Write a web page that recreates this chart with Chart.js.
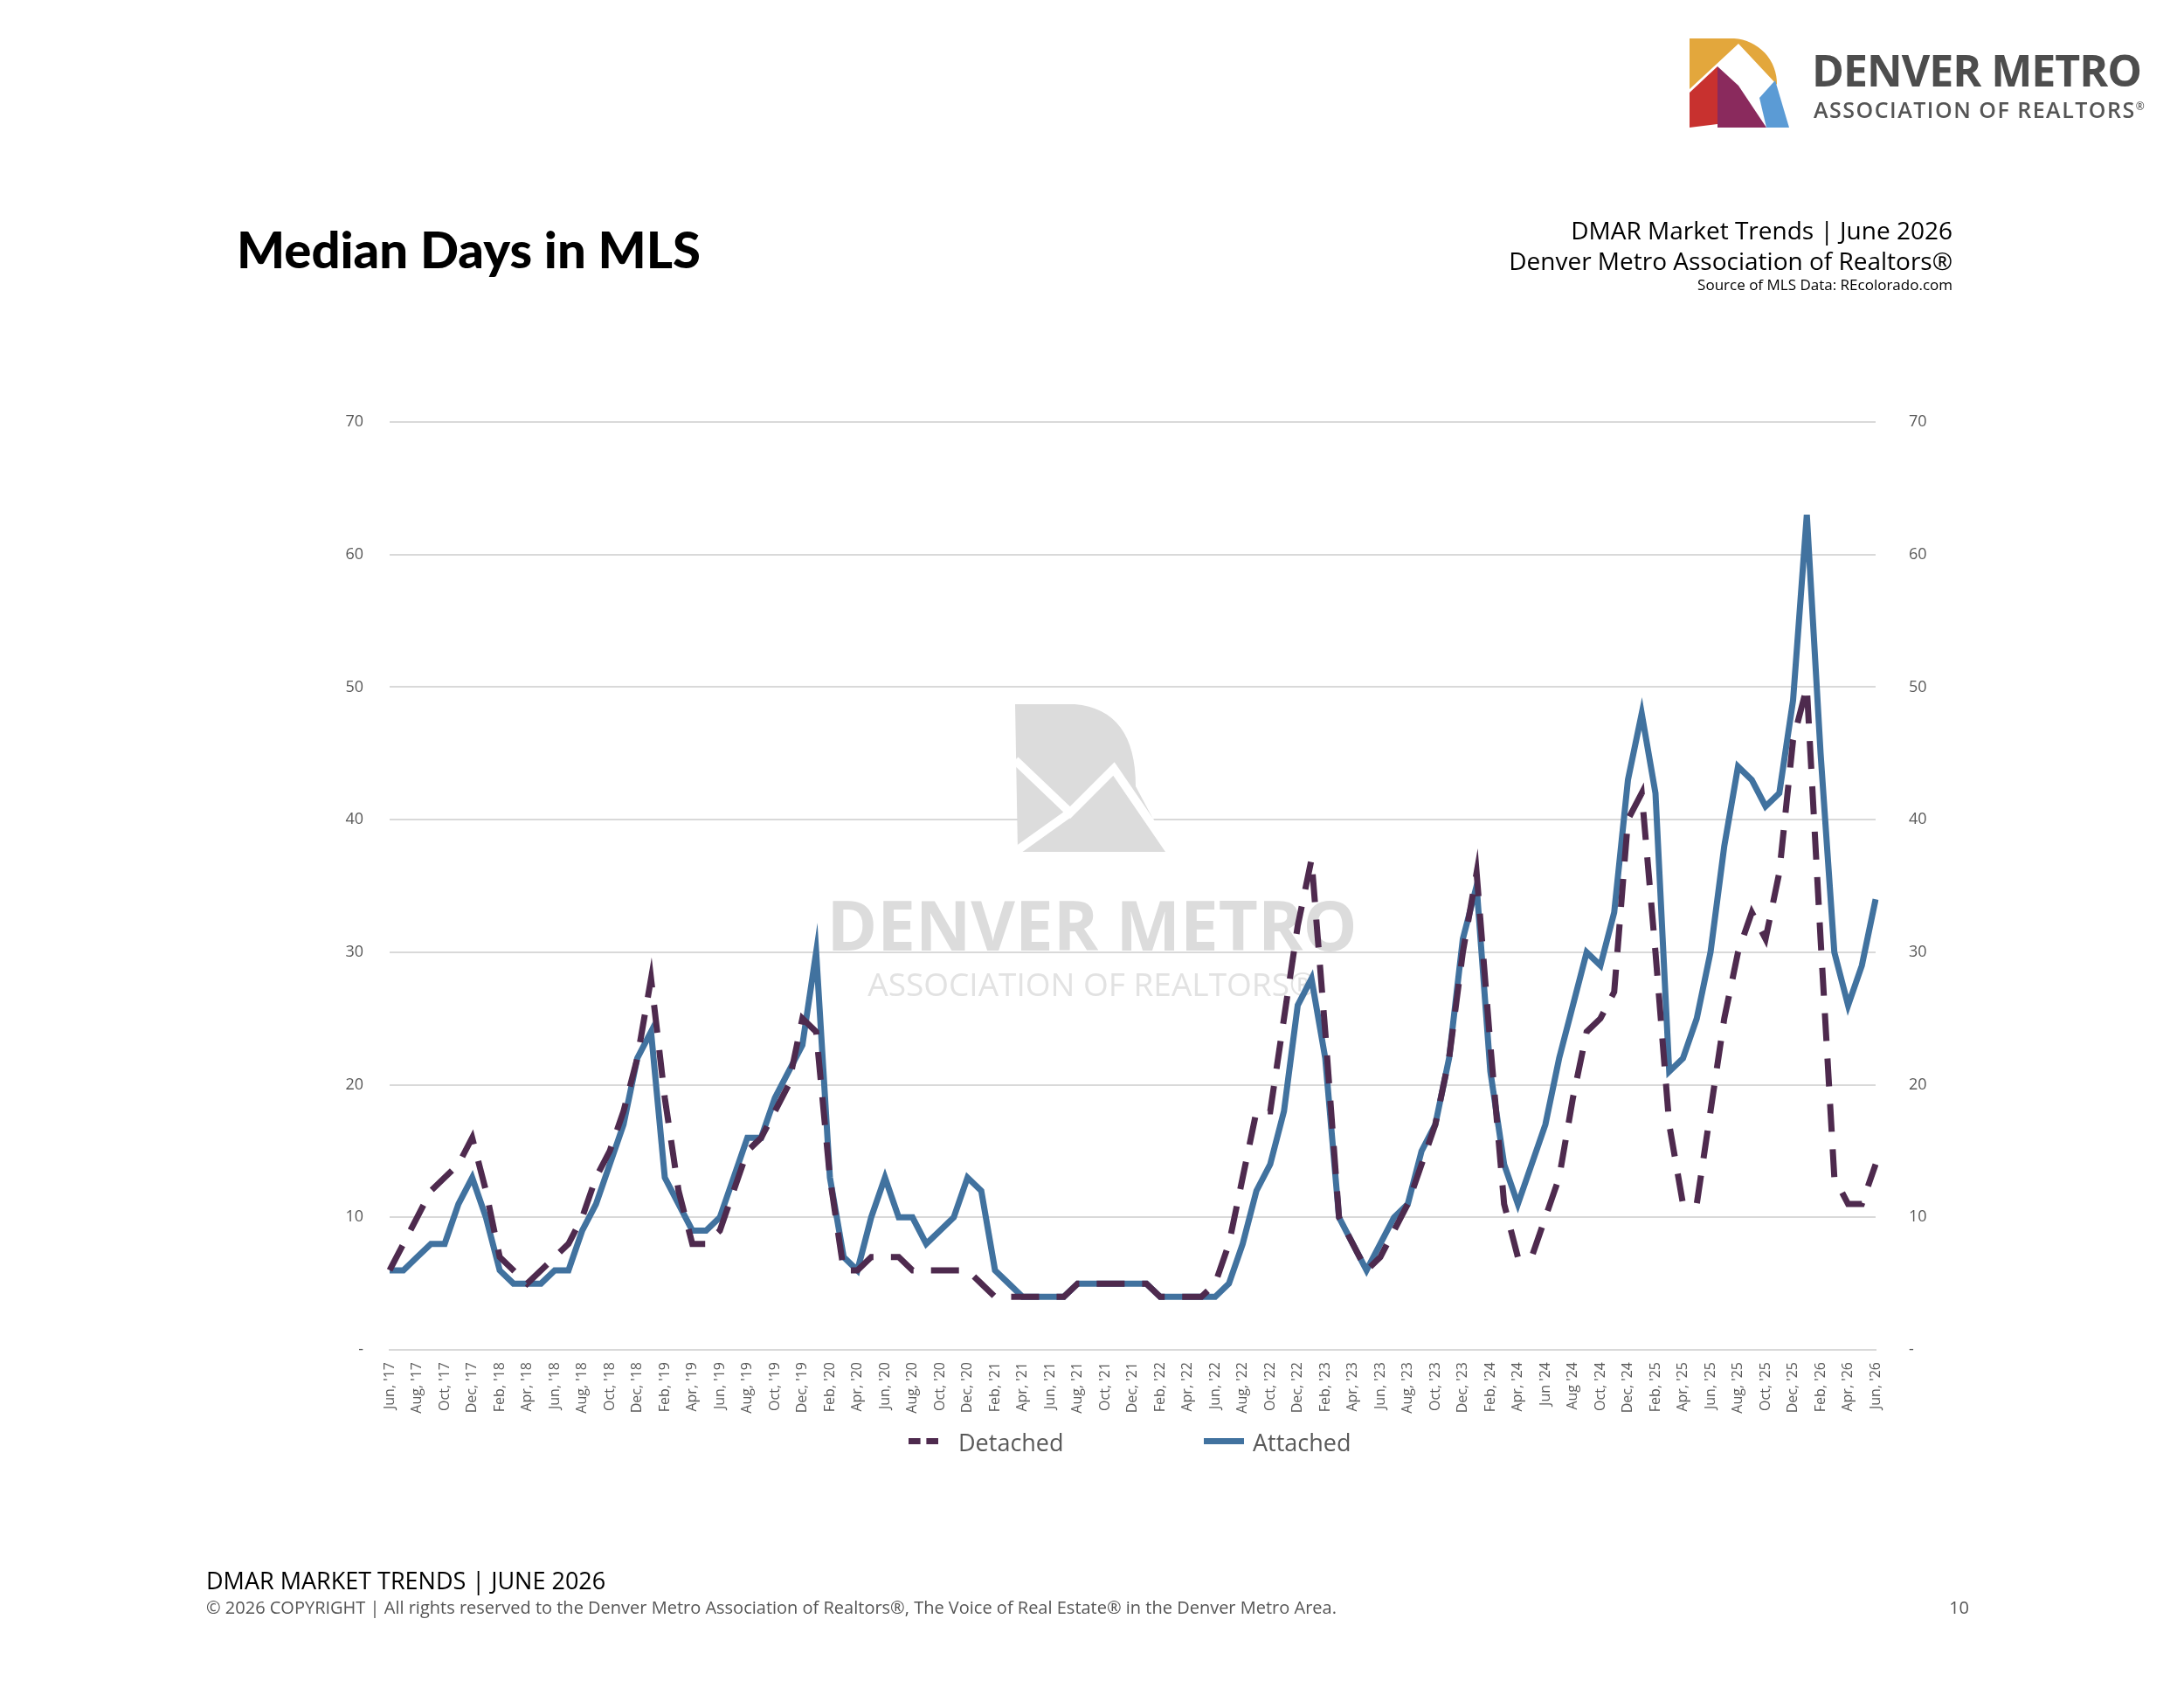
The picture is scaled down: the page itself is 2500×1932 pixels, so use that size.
<!DOCTYPE html>
<html>
<head>
<meta charset="utf-8">
<script src="https://cdn.jsdelivr.net/npm/chart.js@4"></script>
<style>
  body { margin: 0; background: #fff; font-family: "Open Sans", sans-serif; }
  #page { position: relative; width: 2500px; height: 1932px; overflow: hidden; }
  #wrap { position: absolute; left: 0; top: 0; width: 2500px; height: 1932px; }
  .t { position: absolute; white-space: nowrap; color: #000; }
</style>
</head>
<body>
<div id="page">
  <div id="wrap"><canvas id="chart"></canvas></div>

  <!-- logo top right -->
  <svg style="position:absolute;left:1930px;top:42px" width="120" height="110" viewBox="0 0 120 110">
    <path d="M4 2 H55 A52 52 0 0 1 104 55 L60 8 L4 60 Z" fill="#e3a73c"/>
    <path d="M4 64 L36 34 L36 100 L4 104 Z" fill="#c8312f"/>
    <path d="M36 34 L60 56 L92 104 H36 Z" fill="#8a2a5d"/>
    <path d="M84 70 L102 50 L118 104 H92 Z" fill="#5b9bd5"/>
  </svg>
  <div class="t" style="left:2074px;top:46px;font:700 50px 'Open Sans';color:#4d4d4d;letter-spacing:-1px">DENVER METRO</div>
  <div class="t" style="left:2076px;top:108px;font:600 25px 'Open Sans';color:#555;letter-spacing:1.5px">ASSOCIATION OF REALTORS<sup style="font-size:12px">®</sup></div>

  <div class="t" style="left:271px;top:250px;font:900 58px Lato">Median Days in MLS</div>

  <div class="t" style="right:265px;top:244px;font:500 28px 'Open Sans';text-align:right">DMAR Market Trends | June 2026</div>
  <div class="t" style="right:265px;top:279px;font:400 28px 'Open Sans';text-align:right">Denver Metro Association of Realtors®</div>
  <div class="t" style="right:265px;top:314px;font:400 17px 'Open Sans';text-align:right">Source of MLS Data: REcolorado.com</div>

  <!-- legend -->
  <div style="position:absolute;left:1040px;top:1646px;width:34px;height:0;border-top:7px dashed #4e2a4e"></div>
  <div class="t" style="left:1097px;top:1632px;font:400 27px 'Open Sans';color:#595959">Detached</div>
  <div style="position:absolute;left:1378px;top:1646px;width:46px;height:7px;background:#41729f"></div>
  <div class="t" style="left:1434px;top:1632px;font:400 27px 'Open Sans';color:#595959">Attached</div>

  <div class="t" style="left:236px;top:1790px;font:400 27px 'Open Sans'">DMAR MARKET TRENDS | JUNE 2026</div>
  <div class="t" style="left:236px;top:1826px;font:400 20px 'Open Sans';color:#555">© 2026 COPYRIGHT | All rights reserved to the Denver Metro Association of Realtors®, The Voice of Real Estate® in the Denver Metro Area.</div>
  <div class="t" style="right:246px;top:1826px;font:400 20px 'Open Sans';color:#555">10</div>
</div>

<script>
// Months Jun '17 .. Jun '26
const monthNames = ['Jan', 'Feb', 'Mar', 'Apr', 'May', 'Jun', 'Jul', 'Aug', 'Sep', 'Oct', 'Nov', 'Dec'];
const tickLabels = [];
for (let y = 2017, m = 5; y < 2026 || (y === 2026 && m <= 5); m++) {
    if (m === 12) { m = 0; y++; }
    const yy = String(y).slice(2);
    // a few labels in the reference drop the comma
    const plain = (y === 2024 && (m === 5 || m === 7));
    tickLabels.push(monthNames[m] + (plain ? " '" : ", '") + yy);
}

const detached = [
    6, 8, 10, 12, 13, 14, 16,
    12, 7, 6, 5, 6, 7, 8, 10, 13, 15, 18, 22,
    28, 19, 12, 8, 8, 9, 12, 15, 16, 18, 20, 25,
    24, 13, 6, 6, 7, 7, 7, 6, 6, 6, 6, 6,
    5, 4, 4, 4, 4, 4, 4, 5, 5, 5, 5, 5,
    5, 4, 4, 4, 4, 5, 8, 13, 18, 18, 25, 32,
    37, 24, 10, 8, 6, 7, 9, 11, 14, 17, 22, 30,
    36, 23, 11, 7, 7, 10, 13, 19, 24, 25, 27, 40,
    42, 30, 17, 11, 11, 18, 25, 30, 33, 31, 36, 46,
    50, 31, 13, 11, 11, 14
];

const attached = [
    6, 6, 7, 8, 8, 11, 13,
    10, 6, 5, 5, 5, 6, 6, 9, 11, 14, 17, 22,
    24, 13, 11, 9, 9, 10, 13, 16, 16, 19, 21, 23,
    30, 13, 7, 6, 10, 13, 10, 10, 8, 9, 10, 13,
    12, 6, 5, 4, 4, 4, 4, 5, 5, 5, 5, 5,
    5, 4, 4, 4, 4, 4, 5, 8, 12, 14, 18, 26,
    28, 22, 10, 8, 6, 8, 10, 11, 15, 17, 22, 31,
    35, 21, 14, 11, 14, 17, 22, 26, 30, 29, 33, 43,
    48, 42, 21, 22, 25, 30, 38, 44, 43, 41, 42, 49,
    63, 45, 30, 26, 29, 34
];

const yTicks = [0, 10, 20, 30, 40, 50, 60, 70];

const tickColor = '#595959';

// faint DMAR watermark behind the lines
const watermark = {
    id: 'watermark',
    beforeDatasetsDraw(chart) {
        const ctx = chart.ctx;
        ctx.save();
        ctx.fillStyle = '#dcdcdc';
        // D mark
        ctx.beginPath();
        ctx.moveTo(1162, 806);
        ctx.lineTo(1230, 806);
        ctx.quadraticCurveTo(1300, 812, 1300, 900);
        ctx.lineTo(1340, 975);
        ctx.lineTo(1165, 975);
        ctx.closePath();
        ctx.fill();
        ctx.strokeStyle = '#fff';
        ctx.lineWidth = 10;
        ctx.beginPath();
        ctx.moveTo(1162, 870);
        ctx.lineTo(1225, 930);
        ctx.lineTo(1275, 880);
        ctx.lineTo(1340, 975);
        ctx.moveTo(1162, 975);
        ctx.lineTo(1225, 930);
        ctx.stroke();
        ctx.font = "700 78px 'Open Sans'";
        ctx.textAlign = 'center';
        ctx.textBaseline = 'alphabetic';
        ctx.fillText('DENVER METRO', 1250, 1088);
        ctx.font = "400 37px 'Open Sans'";
        ctx.fillStyle = '#e2e2e2';
        ctx.fillText('ASSOCIATION OF REALTORS®', 1250, 1140);
        ctx.restore();
    }
};

new Chart(document.getElementById('chart'), {
    type: 'line',
    data: {
        labels: tickLabels,
        datasets: [{
            label: 'Detached',
            data: detached,
            borderColor: '#4e2a4e',
            backgroundColor: '#4e2a4e',
            borderWidth: 7,
            borderDash: [32, 20],
            pointRadius: 0,
            tension: 0,
            yAxisID: 'y'
        }, {
            label: 'Attached',
            data: attached,
            borderColor: '#41729f',
            backgroundColor: '#41729f',
            borderWidth: 7,
            pointRadius: 0,
            tension: 0,
            yAxisID: 'y'
        }]
    },
    options: {
        responsive: true,
        maintainAspectRatio: false,
        animation: false,
        layout: { padding: { left: 340, right: 278, top: 483, bottom: 287 } },
        plugins: { legend: { display: false }, tooltip: { enabled: false } },
        scales: {
            x: {
                offset: false,
                grid: { display: false },
                border: { color: '#d9d9d9', width: 2 },
                afterFit: (s) => { s.height = 100; },
                ticks: {
                    autoSkip: false,
                    minRotation: 90,
                    maxRotation: 90,
                    color: tickColor,
                    font: { family: 'Open Sans', size: 16 },
                    padding: 6,
                    callback: function (v, i) { return i % 2 === 0 ? tickLabels[i] : ''; }
                }
            },
            y: {
                position: 'left',
                min: 0,
                max: 70,
                afterFit: (s) => { s.width = 106; },
                afterBuildTicks: (s) => { s.ticks = yTicks.map(v => ({ value: v })); },
                grid: { color: '#d9d9d9', lineWidth: 2, drawTicks: false },
                border: { display: false },
                ticks: {
                    color: tickColor,
                    font: { family: 'Open Sans', size: 18 },
                    padding: 30,
                    callback: (v) => v === 0 ? '-' : v
                }
            },
            y2: {
                position: 'right',
                min: 0,
                max: 70,
                afterFit: (s) => { s.width = 75; },
                afterBuildTicks: (s) => { s.ticks = yTicks.map(v => ({ value: v })); },
                grid: { display: false },
                border: { display: false },
                ticks: {
                    color: tickColor,
                    font: { family: 'Open Sans', size: 18 },
                    padding: 30,
                    callback: (v) => v === 0 ? '-' : v
                }
            }
        }
    },
    plugins: [watermark]
});
</script>
</body>
</html>
